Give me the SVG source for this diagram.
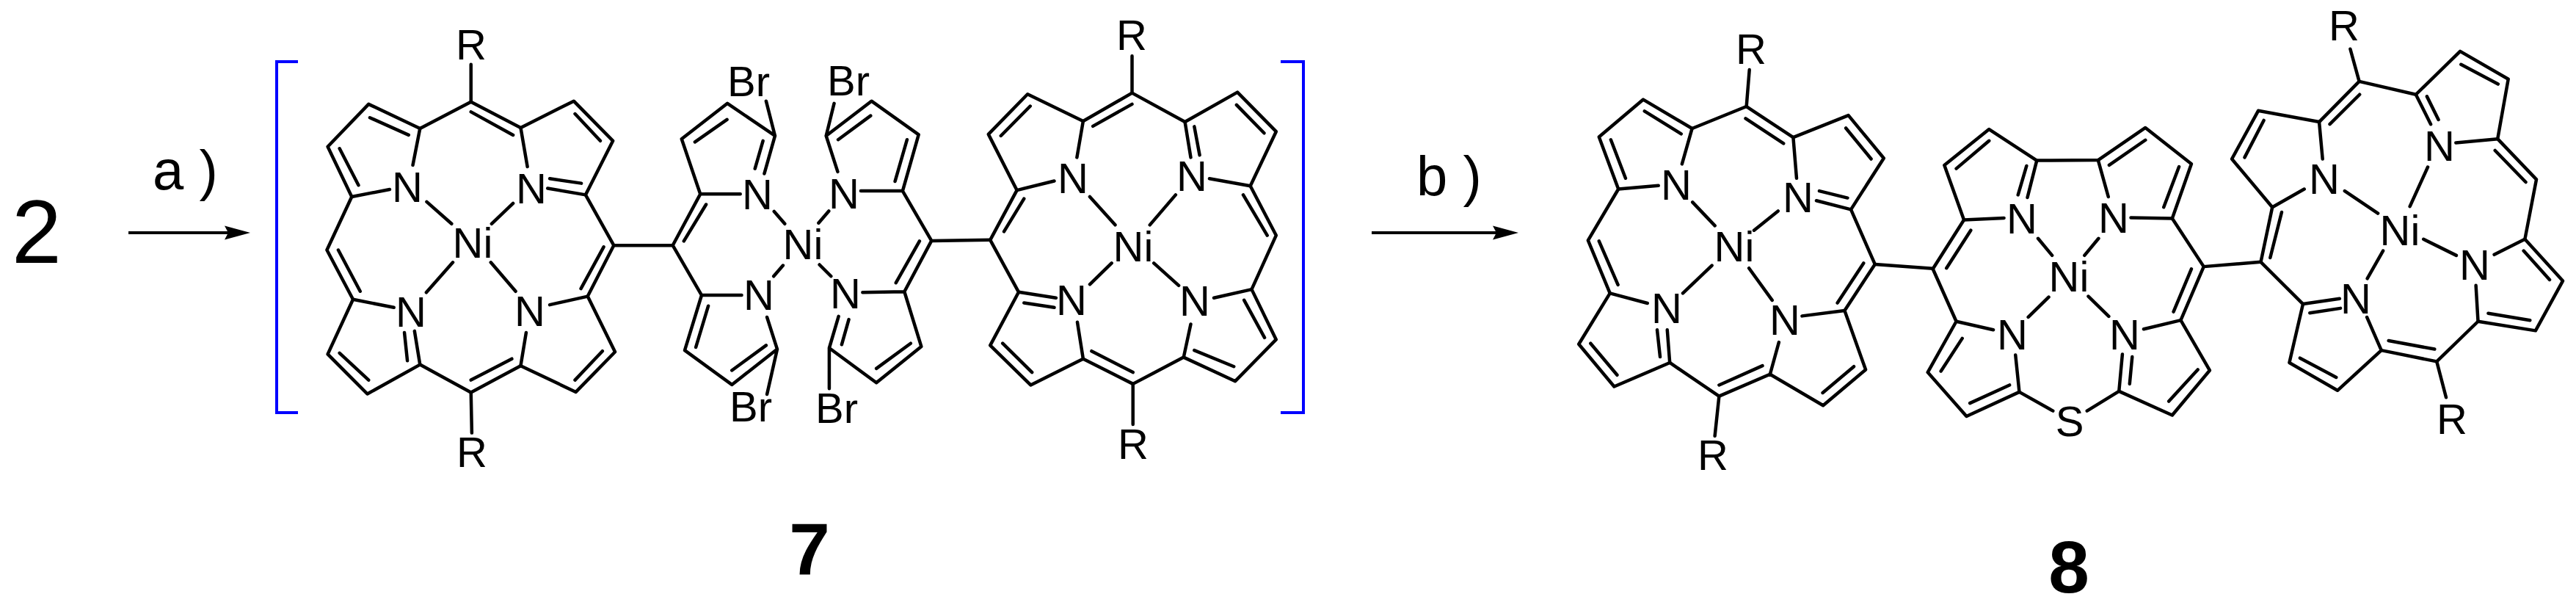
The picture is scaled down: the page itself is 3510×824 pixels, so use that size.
<svg xmlns="http://www.w3.org/2000/svg" width="3510" height="824" viewBox="0 0 3510 824">
<style>
text{font-family:"Liberation Sans",Arial,sans-serif;fill:#000}
.a{font-size:58px;text-anchor:middle}
.c{font-size:76px}
.n{font-size:100px;font-weight:bold;text-anchor:middle}
.b path,.b{fill:none;stroke:#000;stroke-width:4.500;stroke-linejoin:round;stroke-linecap:round}
.b path{vector-effect:non-scaling-stroke}
.k{fill:none;stroke:#00f;stroke-width:4}
.r{fill:none;stroke:#000;stroke-width:4;marker-end:url(#h)}
</style>
<defs><marker id="h" markerUnits="userSpaceOnUse" markerWidth="36" markerHeight="22" refX="5" refY="11" orient="auto"><path d="M0 1.5L35 11L0 20.500L5 11Z" fill="#000"/></marker></defs>
<rect width="3510" height="824" fill="#fff"/>
<g id="connectors">
<g class="b" transform="scale(.574 .5255)"><path d="M997 333L875 270L778 380L835 510L776 648L838 776L778 918L872 1021L997 945L1118 1017L1236 948L1367 1016L1460 912L1395 768L1457 636L1390 505L1455 365L1362 262L1236 331L1118 264Z"/><path d="M1118 264V167M1118 1017L1120 1122M997 333L980 428M835 510L925 491M1236 331L1252 432M1390 505L1300 488M1305 463L1380 475M1395 768L1305 790M1236 948L1249 862M838 776L935 797M997 945L984 858M967 935L960 862M878 305L970 350M806 385L851 480M1118 290L1218 350M1365 295L1425 365M1433 640L1379 748M1430 910L1365 985M1118 985L1215 930M875 985L806 915M803 648L855 755M1013 523L1072 580M1218 527L1167 580M1075 680L1012 758M1165 680L1224 755"/></g>
<g class="b" transform="translate(850) scale(.60587 .5255)"><path d="M-23 636L110 636L172 503L130 360L233 268L340 352L316 450M172 503H262M313 365L295 437M340 352L320 262M160 368L232 310M135 625L185 530M110 636L175 765H265M175 765L137 908L243 997L345 905L322 822M190 793L162 900M243 960L320 895M345 905L322 1022M338 548L362 580M358 688L337 716"/><path d="M533 495H627L692 624L631 756L537 758M627 495L663 349L557 262L455 352L481 445M610 470L637 362M555 300L482 362M455 352L473 268M461 547L438 578M440 686L466 716M665 625L612 733M631 756L669 898L568 992L462 902V1007M462 902L483 820M645 890L568 955M490 893L506 828M692 624L824 622"/><path d="M824 622L884 493L820 348L908 244L1033 314L1143 241L1262 316L1380 239L1467 341L1409 482L1467 610L1412 750L1467 880L1375 988L1259 926L1145 995L1033 930L915 998L824 895L888 757Z"/><path d="M855 600L900 515M848 352L914 275M1055 327L1143 270M1143 241V145M1378 272L1440 345M1393 505L1447 610M1395 778L1441 875M1372 950L1283 908M1145 965L1052 910M918 965L852 890M1033 314L1019 408M884 493L968 469M1262 316L1275 408M1283 328L1295 402M1409 482L1317 463M888 757L972 772M900 785L968 797M1033 930L1020 835M1259 926L1275 840M1412 750L1327 772M1145 995V1100M1048 510L1105 583M1241 505L1183 583M1097 682L1048 737M1192 682L1248 740"/></g>
<g class="b" transform="translate(1750) scale(.574 .5255)"><path d="M968 333L852 258L747 355L793 490L721 623L773 760L699 892L783 1002L915 940L1032 1027L1153 970L1279 1051L1380 958L1330 805L1402 685L1345 543L1423 410L1339 299L1208 356L1097 276Z"/><path d="M1097 276L1104 181M1032 1027L1022 1130M855 288L942 347M775 362L810 462M1095 307L1185 372M1333 332L1393 412M1375 682L1313 785M1352 950L1278 1018M1135 948L1032 998M790 972L727 890M747 625L792 738M968 333L944 425M793 490L888 481M1208 356L1216 462M1345 543L1263 520M1270 495L1337 513M773 760L862 786M915 940L909 855M892 925L885 855M1153 970L1174 887M1330 805L1229 819M969 524L1022 585M1172 547L1115 597M1015 688L946 760M1103 695L1158 778M1402 685L1540 696"/></g>
<g class="b" transform="translate(2600) scale(.58036 .5255)"><path d="M420 1065L495 1014L620 1076L708 960L640 830L694 691L620 566L665 425L557 331L446 415L302 416L190 335L85 428L131 570L58 697L113 833L46 965L137 1079L261 1016L340 1065"/><path d="M90 695L147 597M113 437L190 365M557 363L472 428M636 432L600 537M665 697L623 808M680 958L612 1040M495 1014L503 918M520 995L526 925M145 1045L238 998M77 962L127 877M302 416L280 512M278 430L258 505M446 415L470 510M131 570L225 565M620 566L523 564M113 833L200 855M640 830L553 853M261 1016L252 920M305 618L338 662M447 618L414 662M330 770L282 822M423 768L471 820M694 691L828 679"/><path d="M828 679L855 537L760 412L822 287L965 316L1059 211L1192 245L1296 133L1409 205L1384 360L1475 465L1448 620L1537 728L1473 857L1338 833L1241 937L1111 908L1008 1012L895 940L927 788Z"/><path d="M850 668L877 550M790 408L835 312M990 322L1060 245M1298 167L1385 218M1378 390L1450 472M1445 650L1506 725M1362 812L1460 830M1128 883L1236 905M1005 978L920 928M965 316L973 412M855 537L930 490M1192 245L1227 322M1218 250L1245 310M1384 360L1286 370M927 788L1013 774M943 811L1015 799M1111 908L1077 822M1338 833L1333 740M1448 620L1376 660M1059 211L1038 127M1241 937L1263 1030M1025 495L1103 553M1220 433L1178 535M1115 650L1078 722M1210 620L1287 662"/></g>
<path id="arrow-a" class="r" d="M175 317H311"/>
<path id="arrow-b" class="r" d="M1869 317H2039"/>
</g>
<g id="bracket-left"><path class="k" d="M406 84H377V562H406"/></g>
<g id="bracket-right"><path class="k" d="M1745 84H1776V562H1745"/></g>
<g id="label-2"><text x="16" y="358" font-size="122">2</text></g>
<g id="label-a"><text class="c" x="208" y="258" xml:space="preserve">a )</text></g>
<g id="label-b"><text class="c" x="1930" y="266" xml:space="preserve">b )</text></g>
<g id="label-7"><text class="n" x="1103" y="783">7</text></g>
<g id="label-8"><text class="n" x="2819" y="807">8</text></g>
<g id="porphyrin-1">
<text class="a" x="642" y="81">R</text><text class="a" x="555" y="275">N</text><text class="a" x="724" y="277">N</text><text class="a" x="644" y="351">Ni</text><text class="a" x="560" y="445">N</text><text class="a" x="722" y="444">N</text><text class="a" x="643" y="636">R</text>
</g>
<g id="dipyrrin-7">
<text class="a" x="1020" y="131">Br</text><text class="a" x="1156" y="130">Br</text><text class="a" x="1023" y="574">Br</text><text class="a" x="1140" y="576">Br</text><text class="a" x="1032" y="285">N</text><text class="a" x="1034" y="422">N</text><text class="a" x="1150" y="284">N</text><text class="a" x="1152" y="420">N</text><text class="a" x="1094" y="353">Ni</text>
</g>
<g id="porphyrin-2">
<text class="a" x="1542" y="68">R</text><text class="a" x="1462" y="263">N</text><text class="a" x="1624" y="260">N</text><text class="a" x="1544" y="356">Ni</text><text class="a" x="1460" y="429">N</text><text class="a" x="1628" y="430">N</text><text class="a" x="1544" y="625">R</text>
</g>
<g id="porphyrin-3">
<text class="a" x="2386" y="87">R</text><text class="a" x="2284" y="272">N</text><text class="a" x="2450" y="289">N</text><text class="a" x="2363" y="356">Ni</text><text class="a" x="2271" y="440">N</text><text class="a" x="2432" y="456">N</text><text class="a" x="2334" y="640">R</text>
</g>
<g id="thiaporphyrin">
<text class="a" x="2755" y="318">N</text><text class="a" x="2880" y="317">N</text><text class="a" x="2819" y="397">Ni</text><text class="a" x="2742" y="476">N</text><text class="a" x="2895" y="476">N</text><text class="a" x="2820" y="594">S</text>
</g>
<g id="porphyrin-4">
<text class="a" x="3194" y="55">R</text><text class="a" x="3167" y="264">N</text><text class="a" x="3324" y="219">N</text><text class="a" x="3270" y="334">Ni</text><text class="a" x="3372" y="381">N</text><text class="a" x="3210" y="427">N</text><text class="a" x="3341" y="591">R</text>
</g>
</svg>
